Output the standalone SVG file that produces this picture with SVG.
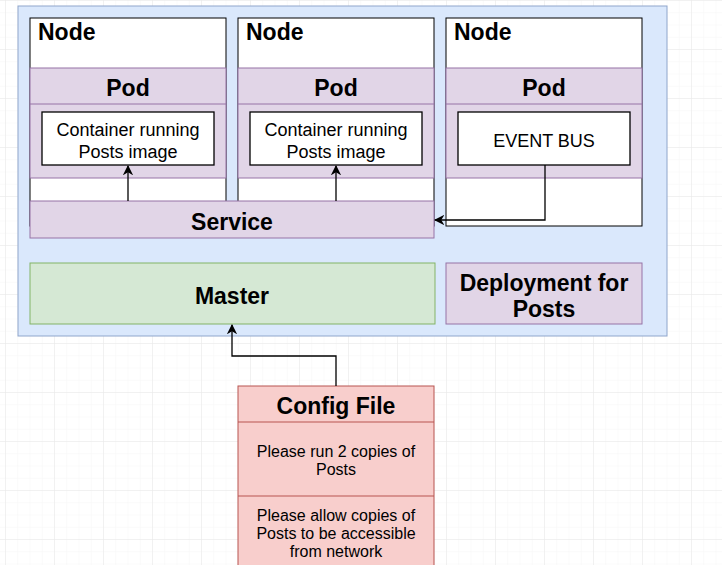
<svg xmlns="http://www.w3.org/2000/svg" width="722" height="565" viewBox="0 0 722 565">
<defs>
<pattern id="minor" width="12.25" height="12.25" patternUnits="userSpaceOnUse" x="5" y="0">
<path d="M0 0H12.25M0 0V12.25" fill="none" stroke="#f5f5f5" stroke-width="1"/>
</pattern>
<pattern id="major" width="49" height="49" patternUnits="userSpaceOnUse" x="5" y="0">
<path d="M0 0H49M0 0V49" fill="none" stroke="#e8e8e8" stroke-width="1"/>
</pattern>
<marker id="arr" viewBox="0 0 10 10" refX="9" refY="5" markerWidth="8" markerHeight="8" orient="auto">
<path d="M0 0L10 5L0 10L3 5Z" fill="#000"/>
</marker>
<style>
.t{font-family:"Liberation Sans",Arial,sans-serif;fill:#000}
.b{font-weight:bold;font-size:23px}
.r{font-size:18px}
.s{font-size:16px}
.node{fill:#fff;stroke:#000;stroke-width:1}
.pod{fill:#e1d5e7;stroke:#9673a6;stroke-width:1}
.box{fill:#fff;stroke:#000;stroke-width:1.3}
.con{fill:none;stroke:#000;stroke-width:1.3}
</style>
</defs>
<rect width="722" height="565" fill="#fff"/>
<rect width="722" height="565" fill="url(#minor)"/>
<rect width="722" height="565" fill="url(#major)"/>

<g id="cluster">
<rect x="18" y="6" width="649" height="330" fill="#dae8fc" stroke="#8fa6cc" stroke-width="1"/>
</g>

<g id="node1">
<rect class="node" x="30" y="18" width="196" height="208"/>
<text class="t b" x="38" y="40">Node</text>
</g>
<g id="pod1">
<rect class="pod" x="30" y="68" width="196" height="110"/>
<line x1="30" y1="104" x2="226" y2="104" stroke="#9673a6"/>
<text class="t b" x="128" y="96" text-anchor="middle">Pod</text>
</g>
<g id="container1">
<rect class="box" x="42" y="112" width="172" height="53"/>
<text class="t r" x="128" y="136" text-anchor="middle">Container running</text>
<text class="t r" x="128" y="158" text-anchor="middle">Posts image</text>
</g>

<g id="node2">
<rect class="node" x="238" y="18" width="196" height="208"/>
<text class="t b" x="246" y="40">Node</text>
</g>
<g id="pod2">
<rect class="pod" x="238" y="68" width="196" height="110"/>
<line x1="238" y1="104" x2="434" y2="104" stroke="#9673a6"/>
<text class="t b" x="336" y="96" text-anchor="middle">Pod</text>
</g>
<g id="container2">
<rect class="box" x="250" y="112" width="172" height="53"/>
<text class="t r" x="336" y="136" text-anchor="middle">Container running</text>
<text class="t r" x="336" y="158" text-anchor="middle">Posts image</text>
</g>

<g id="node3">
<rect class="node" x="446" y="18" width="196" height="208"/>
<text class="t b" x="454" y="40">Node</text>
</g>
<g id="pod3">
<rect class="pod" x="446" y="68" width="196" height="110"/>
<line x1="446" y1="104" x2="642" y2="104" stroke="#9673a6"/>
<text class="t b" x="544" y="96" text-anchor="middle">Pod</text>
</g>
<g id="eventbus">
<rect class="box" x="458" y="112" width="172" height="53"/>
<text class="t r" x="544" y="147" text-anchor="middle">EVENT BUS</text>
</g>

<g id="service">
<rect class="pod" x="30" y="201" width="404" height="37"/>
<text class="t b" x="232" y="230" text-anchor="middle">Service</text>
</g>

<g id="master">
<rect x="30" y="263" width="405" height="61" fill="#d5e8d4" stroke="#82b366" stroke-width="1"/>
<text class="t b" x="232" y="304" text-anchor="middle" font-size="22">Master</text>
</g>

<g id="deployment">
<rect class="pod" x="446" y="263" width="196" height="61"/>
<text class="t b" x="544" y="291" text-anchor="middle">Deployment for</text>
<text class="t b" x="544" y="317" text-anchor="middle">Posts</text>
</g>

<g id="config">
<rect x="238" y="386" width="196" height="190" fill="#f8cecc" stroke="#b85450" stroke-width="1"/>
<line x1="238" y1="422" x2="434" y2="422" stroke="#b85450"/>
<line x1="238" y1="496" x2="434" y2="496" stroke="#b85450"/>
<text class="t b" x="336" y="414" text-anchor="middle" font-size="24">Config File</text>
<text class="t s" x="336" y="457" text-anchor="middle">Please run 2 copies of</text>
<text class="t s" x="336" y="475" text-anchor="middle">Posts</text>
<text class="t s" x="336" y="521" text-anchor="middle">Please allow copies of</text>
<text class="t s" x="336" y="539" text-anchor="middle">Posts to be accessible</text>
<text class="t s" x="336" y="557" text-anchor="middle">from network</text>
</g>

<g id="connectors">
<path class="con" d="M128 201V166" marker-end="url(#arr)"/>
<path class="con" d="M336 201V166" marker-end="url(#arr)"/>
<path class="con" d="M545 165V220H435" marker-end="url(#arr)"/>
<path class="con" d="M336 386V356H232V325" marker-end="url(#arr)"/>
</g>
</svg>
